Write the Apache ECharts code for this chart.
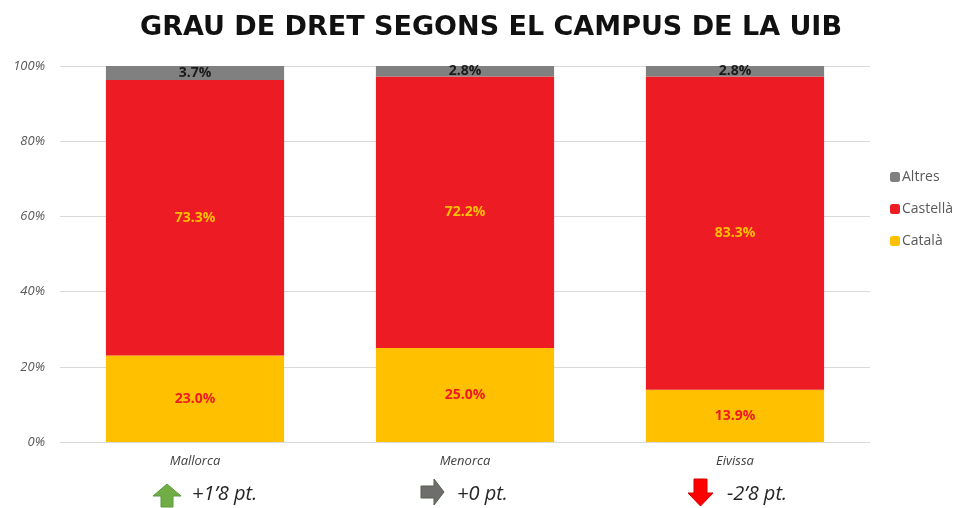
<!DOCTYPE html>
<html><head><meta charset="utf-8">
<script src="https://cdn.jsdelivr.net/npm/echarts@6/dist/echarts.min.js"></script>
<style>html,body{margin:0;padding:0;background:#fff}#c{width:959px;height:508px}</style>
</head><body><div id="c"></div>
<script>
const categories = ['Mallorca', 'Menorca', 'Eivissa'];
const catala = [23.0, 25.0, 13.9];
const castella = [73.3, 72.2, 83.3];
const altres = [3.7, 2.8, 2.8];
const changes = ['+1’8 pt.', '+0 pt.', '-2’8 pt.'];
const changeDir = ['up', 'right', 'down'];
const yTicks = [0, 20, 40, 60, 80, 100];

// layout-only constants for the annotations under the axis
const arrowOffsets = [-42, -44, -47];
const arrowTops = [484, 479, 479];
const textOffsets = [-3, -8, -8];

const chart = echarts.init(document.getElementById('c'), null, {renderer: 'canvas'});
const lbl = (color) => ({show: true, position: 'inside', color: color, fontWeight: 'bold', fontSize: 14, fontFamily: 'Open Sans',
  formatter: p => p.value.toFixed(1) + '%'});
const option = {
  animation: false,
  title: {text: 'GRAU DE DRET SEGONS EL CAMPUS DE LA UIB', left: 486, textAlign: 'center', top: 9,
    textStyle: {fontFamily: 'DejaVu Sans', fontWeight: 'bold', fontSize: 27, color: '#111'}},
  legend: {orient: 'vertical', left: 885, top: 165, itemWidth: 10, itemHeight: 10, itemGap: 18,
    data: ['Altres', 'Castellà', 'Català'],
    textStyle: {color: '#595959', fontSize: 14, fontFamily: 'Open Sans', padding: [0, 0, 0, -3]}},
  grid: {left: 60, right: 89, top: 66, bottom: 66},
  xAxis: {type: 'category', data: categories, axisTick: {show: false},
    axisLine: {lineStyle: {color: '#d9d9d9'}},
    axisLabel: {fontStyle: 'italic', color: '#404040', fontSize: 13, fontFamily: 'Open Sans', margin: 13}},
  yAxis: {type: 'value', min: yTicks[0], max: yTicks[yTicks.length - 1], interval: 20,
    axisLabel: {formatter: '{value}%', fontStyle: 'italic', color: '#595959', fontSize: 13, fontFamily: 'Open Sans', margin: 15},
    splitLine: {lineStyle: {color: '#d9d9d9'}}},
  series: [
    {name: 'Català', type: 'bar', stack: 't', data: catala, barWidth: '66%', itemStyle: {color: '#FFC000'}, label: lbl('#ED1C24')},
    {name: 'Castellà', type: 'bar', stack: 't', data: castella, itemStyle: {color: '#ED1C24'}, label: lbl('#FFC000')},
    {name: 'Altres', type: 'bar', stack: 't', data: altres, itemStyle: {color: '#808080'}, label: lbl('#1a1a1a')}
  ]
};
chart.setOption(option);

function arrowShape(dir) {
  if (dir === 'up') return [[14,0],[28,12],[20,12],[20,23],[8,23],[8,12],[0,12]];
  if (dir === 'down') return [[12.5,27],[25,14],[19,14],[19,0],[6,0],[6,14],[0,14]];
  return [[0,7],[13,7],[13,0],[23,13],[13,26],[13,19],[0,19]];
}
const arrowFill = {up: '#70AD47', right: '#6E6E6E', down: '#FF0000'};
const arrowStroke = {up: '#5a9a3a', right: '#55604a', down: '#d00000'};
const graphics = [];
categories.forEach((c, i) => {
  const px = chart.convertToPixel({xAxisIndex: 0}, c);
  graphics.push({type: 'polygon', x: px + arrowOffsets[i], y: arrowTops[i], shape: {points: arrowShape(changeDir[i])},
    style: {fill: arrowFill[changeDir[i]], stroke: arrowStroke[changeDir[i]], lineWidth: 1}});
  graphics.push({type: 'text', x: px + textOffsets[i], y: 494, style: {text: changes[i], fill: '#262626',
    font: 'italic 20px "Open Sans"', textVerticalAlign: 'middle'}});
});
chart.setOption({graphic: graphics});
</script></body></html>
